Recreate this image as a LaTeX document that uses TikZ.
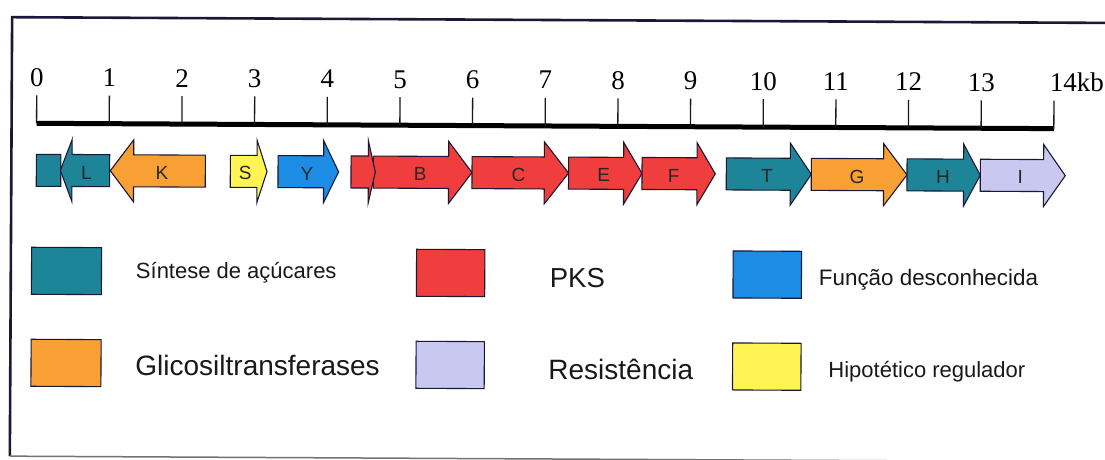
\documentclass[tikz,border=0pt]{standalone}
\usepackage{fontspec}
\setmainfont{Liberation Serif}
\newfontfamily\legendfont{Liberation Sans}

% gene-class colours
\definecolor{sugar}{RGB}{30,133,152}
\definecolor{glyco}{RGB}{248,160,52}
\definecolor{pks}{RGB}{240,62,62}
\definecolor{unknown}{RGB}{28,140,228}
\definecolor{resist}{RGB}{200,200,240}
\definecolor{regul}{RGB}{255,244,84}
\definecolor{outline}{RGB}{25,25,55}

\tikzset{
  genebody/.style={draw=outline, line width=1.1pt, line join=miter},
  genelabel/.style={font=\legendfont\fontsize{19}{19}\selectfont, text=black!85, inner sep=0pt},
  ticklabel/.style={font=\fontsize{27}{27}\selectfont, inner sep=0pt, anchor=base},
  tickmark/.style={line width=1.3pt, draw=black!90},
  legbox/.style={draw=outline, line width=1.1pt},
  legtext/.style={inner sep=0pt, anchor=base west, text=black!90},
  frameline/.style={line width=2.6pt, draw=outline},
}

% vertical placement of the gene row (picture units, y grows downwards)
\def\geneY{173}
\def\bodyH{16}
\def\headH{31}
\def\labelY{175}

% rightward gene: name, body start, head base, tip, colour, label x, label
\newcommand{\geneRight}[7]{%
  \draw[genebody, fill=#5] (#2,\geneY-\bodyH) -- (#3,\geneY-\bodyH) -- (#3,\geneY-\headH)
    -- (#4,\geneY) -- (#3,\geneY+\headH) -- (#3,\geneY+\bodyH) -- (#2,\geneY+\bodyH) -- cycle;
  \node[genelabel] (#1) at (#6,\labelY) {#7};
}
% leftward gene: name, tip, head base, body end, colour, label x, label
\newcommand{\geneLeft}[7]{%
  \draw[genebody, fill=#5] (#2,\geneY) -- (#3,\geneY-\headH) -- (#3,\geneY-\bodyH)
    -- (#4,\geneY-\bodyH) -- (#4,\geneY+\bodyH) -- (#3,\geneY+\bodyH) -- (#3,\geneY+\headH) -- cycle;
  \node[genelabel] (#1) at (#6,\labelY) {#7};
}

\begin{document}
\begin{tikzpicture}[x=1pt, y=-1pt]
\useasboundingbox[fill=white] (0,0) rectangle (1105,460);

\begin{scope}[rotate around={-0.3:(552,230)}]
  % frame
  \draw[frameline] (1110,20) -- (11,20) -- (11,459);
  \draw[line width=1.5pt, draw=black!55] (11,459) -- (1110,459);

  % kb scale
  \coordinate (axL) at (36,126);
  \coordinate (axR) at (1053.5,126);
  \draw[line width=5pt, draw=black] (axL) -- (axR);
  \foreach \k in {0,...,13}{
    \draw[tickmark] (36+\k*72.66,98) -- (36+\k*72.66,126);
    \node[ticklabel] (t\k) at (36+\k*72.66,89) {\k};
  }
  \draw[tickmark] (1053.3,98) -- (1053.3,126);
  \node[ticklabel, anchor=base west] (t14) at (1049,89) {14kb};

  % gene cluster
  \draw[genebody, fill=sugar] (36,\geneY-\bodyH) rectangle (60.5,\geneY+\bodyH);
  \geneLeft{gL}{60}{71.7}{109.3}{sugar}{86}{L}
  \geneLeft{gK}{110}{133.3}{205}{glyco}{161.7}{K}
  \geneRight{gS}{230}{256.7}{266.7}{regul}{245}{S}
  \geneRight{gY}{277.7}{323.3}{338.3}{unknown}{306.7}{Y}
  \geneRight{gB}{373}{448.3}{471.7}{pks}{420}{B}
  \draw[genebody, fill=pks] (350.7,\geneY-\bodyH) -- (368,\geneY-\bodyH) -- (368,\geneY-\headH)
    -- (375,\geneY) -- (368,\geneY+\headH) -- (368,\geneY+\bodyH) -- (350.7,\geneY+\bodyH) -- cycle;
  \geneRight{gC}{471.7}{544}{568.3}{pks}{518.3}{C}
  \geneRight{gE}{568.3}{623.3}{641.7}{pks}{603.3}{E}
  \geneRight{gF}{641.7}{696.7}{715}{pks}{673.3}{F}
  \geneRight{gT}{726}{790}{811}{sugar}{766.7}{T}
  \geneRight{gG}{811}{883.3}{906.7}{glyco}{856.7}{G}
  \geneRight{gH}{906.7}{963.3}{980}{sugar}{942.7}{H}
  \geneRight{gI}{980}{1043.3}{1065}{resist}{1020}{I}

  % legend
  \draw[legbox, fill=sugar]   (31.7,250) rectangle (101.7,297);
  \draw[legbox, fill=glyco]   (31.7,342) rectangle (101.7,389);
  \draw[legbox, fill=pks]     (416.7,250) rectangle (485,297);
  \draw[legbox, fill=resist]  (416.7,342) rectangle (485,389);
  \draw[legbox, fill=unknown] (733.3,250) rectangle (801.7,297);
  \draw[legbox, fill=regul]   (733.3,342) rectangle (801.7,389);

  \node[legtext, font=\legendfont\fontsize{22}{22}\selectfont] (lsug) at (136,281) {Síntese de açúcares};
  \node[legtext, font=\legendfont\fontsize{28}{28}\selectfont] (lgly) at (136,378) {Glicosiltransferases};
  \node[legtext, font=\legendfont\fontsize{27.5}{27.5}\selectfont] (lpks) at (550,288) {PKS};
  \node[legtext, font=\legendfont\fontsize{28}{28}\selectfont] (lres) at (549,379.5) {Resistência};
  \node[legtext, font=\legendfont\fontsize{22.4}{22.4}\selectfont] (lunk) at (819,284) {Função desconhecida};
  \node[legtext, font=\legendfont\fontsize{22}{22}\selectfont] (lreg) at (829,376.5) {Hipotético regulador};
\end{scope}
\end{tikzpicture}
\end{document}
